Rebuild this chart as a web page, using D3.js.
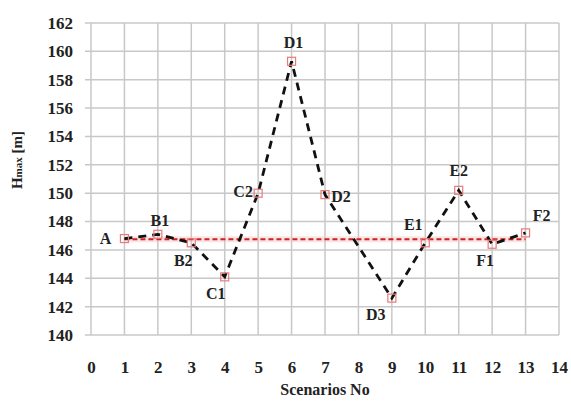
<!DOCTYPE html>
<html><head><meta charset="utf-8">
<script src="https://cdn.jsdelivr.net/npm/d3@7"></script>
<style>body{margin:0;background:#fff}svg{display:block}
svg text{font-family:"Liberation Serif","DejaVu Serif","Times New Roman",serif !important;font-weight:bold}</style>
</head><body>
<script>
const scenarios = [1,2,3,4,5,6,7,9,10,11,12,13];
const hmax = [146.8,147.1,146.5,144.1,150.0,159.3,149.9,142.6,146.5,150.2,146.4,147.2];
const pointLabels = ["A","B1","B2","C1","C2","D1","D2","D3","E1","E2","F1","F2"];
const referenceLevel = 146.75;
const referenceRange = [1,13];
const xTicks = [0,1,2,3,4,5,6,7,8,9,10,11,12,13,14];
const yTicks = [140,142,144,146,148,150,152,154,156,158,160,162];
// label offsets (dx, dy) in px relative to point
const labelOffsets = [[-19,5],[2,-8],[-8,23],[-9,22],[-15,4],[2,-13],[16,7],[-16,22],[-12,-13],[0,-14],[-7,22],[16,-12]];

const W=571,H=401;
const m={l:91,r:12,t:23,b:66};
const svg=d3.select("body").append("svg").attr("width",W).attr("height",H);
const x=d3.scaleLinear().domain([0,14]).range([m.l,W-m.r]);
const y=d3.scaleLinear().domain([140,162]).range([H-m.b,m.t]);

// grid
const g=svg.append("g");
g.selectAll(".hg").data(yTicks).join("line")
 .attr("x1",m.l-6).attr("x2",W-m.r).attr("y1",d=>y(d)).attr("y2",d=>y(d))
 .attr("stroke","#c8c8c8").attr("stroke-width",1.5);
g.selectAll(".vg").data(xTicks).join("line")
 .attr("y1",m.t).attr("y2",H-m.b).attr("x1",d=>x(d)).attr("x2",d=>x(d))
 .attr("stroke","#c8c8c8").attr("stroke-width",1.5);

// axes (labels only)
const yAxis=d3.axisLeft(y).tickValues(yTicks).tickSize(0).tickPadding(18);
const ya=svg.append("g").attr("transform",`translate(${m.l},0)`).call(yAxis);
ya.select(".domain").remove();
ya.selectAll("text").attr("font-size",17).attr("fill","#222");
const xAxis=d3.axisBottom(x).tickValues(xTicks).tickSize(0).tickPadding(26);
const xa=svg.append("g").attr("transform",`translate(0,${H-m.b})`).call(xAxis);
xa.select(".domain").remove();
xa.selectAll("text").attr("font-size",17).attr("fill","#222");

// axis titles
svg.append("text").attr("x",325).attr("y",395).attr("text-anchor","middle")
 .attr("font-size",16).attr("fill","#222").text("Scenarios No");
const yt=svg.append("text").attr("transform","translate(22,160) rotate(-90)").attr("text-anchor","middle")
 .attr("font-size",15).attr("fill","#222");
yt.append("tspan").text("H");
yt.append("tspan").attr("font-size",11).text("max");
yt.append("tspan").text("  [m]");

// reference line
svg.append("line").attr("x1",x(referenceRange[0])).attr("x2",x(referenceRange[1]))
 .attr("y1",y(referenceLevel)).attr("y2",y(referenceLevel))
 .attr("stroke","#f4c0c0").attr("stroke-width",6).attr("opacity",0.4);
svg.append("line").attr("x1",x(referenceRange[0])).attr("x2",x(referenceRange[1]))
 .attr("y1",y(referenceLevel)).attr("y2",y(referenceLevel))
 .attr("stroke","#d42020").attr("stroke-width",2).attr("stroke-dasharray","5,3");

const data=scenarios.map((s,i)=>({s,v:hmax[i],l:pointLabels[i],o:labelOffsets[i]}));
const line=d3.line().x(d=>x(d.s)).y(d=>y(d.v));
svg.append("path").datum(data).attr("d",line).attr("fill","none")
 .attr("stroke","#111").attr("stroke-width",2.8).attr("stroke-dasharray","8,6");

svg.selectAll(".mk").data(data).join("rect")
 .attr("x",d=>x(d.s)-4).attr("y",d=>y(d.v)-4).attr("width",8).attr("height",8)
 .attr("fill","none").attr("stroke","#e87a7a").attr("stroke-width",1.2);

svg.selectAll(".lb").data(data).join("text")
 .attr("x",d=>x(d.s)+d.o[0]).attr("y",d=>y(d.v)+d.o[1]).attr("text-anchor","middle")
 .attr("font-size",16).attr("fill","#222")
 .text(d=>d.l);
</script>
</body></html>
